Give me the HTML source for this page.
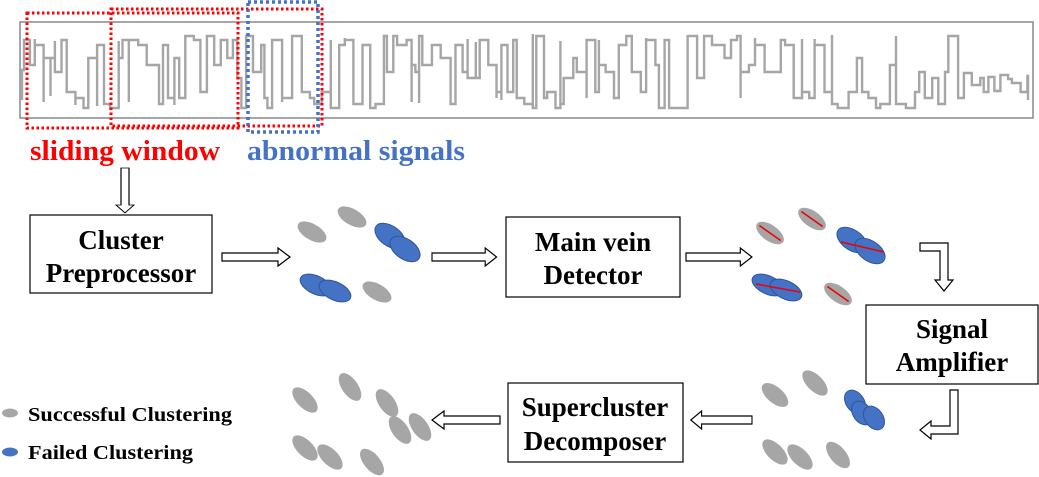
<!DOCTYPE html>
<html><head><meta charset="utf-8"><style>
body{margin:0;background:#fff}
svg{display:block}
.b{font-family:"Liberation Serif",serif;font-weight:bold;font-size:27px;fill:#000;text-anchor:middle}
.l{font-family:"Liberation Serif",serif;font-weight:bold;font-size:20px;fill:#000}
</style></head><body>
<svg width="1039" height="477" viewBox="0 0 1039 477" xmlns="http://www.w3.org/2000/svg">
<defs>
<g id="ar"><path d="M0,-4 H56 V-9 L68,0 L56,9 V4 H0 Z" fill="#fff" stroke="#000" stroke-width="1.2"/></g>
</defs>
<rect x="20" y="22" width="1013" height="96" fill="none" stroke="#888" stroke-width="1.5"/>
<path id="sig" fill="none" stroke="#a6a6a6" stroke-width="2.4"/>
<rect x="27" y="13" width="211" height="115" fill="none" stroke="#f00" stroke-width="3" stroke-dasharray="2.5 2.5"/>
<rect x="111" y="9" width="211" height="117" fill="none" stroke="#f00" stroke-width="3" stroke-dasharray="2.5 2.5"/>
<rect x="248" y="2" width="70" height="130" fill="none" stroke="#4472c4" stroke-width="3.5" stroke-dasharray="3 3"/>
<text x="30" y="160" font-family="Liberation Serif,serif" font-weight="bold" font-size="29" fill="#f00" textLength="190" lengthAdjust="spacingAndGlyphs">sliding window</text>
<text x="247" y="160" font-family="Liberation Serif,serif" font-weight="bold" font-size="29" fill="#4472c4" textLength="218" lengthAdjust="spacingAndGlyphs">abnormal signals</text>
<use href="#ar" transform="translate(125,168) rotate(90) scale(0.66,1)"/>
<rect x="30" y="215" width="182" height="78" fill="#fff" stroke="#000" stroke-width="1.2"/>
<text class="b" x="121" y="249">Cluster</text><text class="b" x="121" y="282">Preprocessor</text>
<rect x="506" y="217" width="174" height="80" fill="#fff" stroke="#000" stroke-width="1.2"/>
<text class="b" x="593" y="251">Main vein</text><text class="b" x="593" y="284">Detector</text>
<rect x="866" y="305" width="172" height="79" fill="#fff" stroke="#000" stroke-width="1.2"/>
<text class="b" x="952" y="338">Signal</text><text class="b" x="952" y="371">Amplifier</text>
<rect x="508" y="383" width="175" height="79" fill="#fff" stroke="#000" stroke-width="1.2"/>
<text class="b" x="595" y="416">Supercluster</text><text class="b" x="595" y="450">Decomposer</text>
<use href="#ar" transform="translate(222,257)"/>
<use href="#ar" transform="translate(432,257) scale(0.95,1)"/>
<use href="#ar" transform="translate(686,257) scale(0.97,1)"/>
<use href="#ar" transform="translate(752,420) scale(-0.9,1)"/>
<use href="#ar" transform="translate(500,420) scale(-1,1)"/>
<path d="M920,243 H948 V280 H953 L944,291 L935,280 H940 V251 H920 Z" fill="#fff" stroke="#000" stroke-width="1.2"/>
<path d="M958,390 V434 H931 V439 L920,430 L931,421 V426 H950 V390 Z" fill="#fff" stroke="#000" stroke-width="1.2"/>
<g id="ells"></g>
<ellipse cx="10" cy="413" rx="8" ry="4.5" fill="#a6a6a6"/>
<ellipse cx="10" cy="452" rx="8" ry="4.5" fill="#4472c4"/>
<text class="l" x="28" y="421" textLength="204" lengthAdjust="spacingAndGlyphs">Successful Clustering</text>
<text class="l" x="28" y="459" textLength="165" lengthAdjust="spacingAndGlyphs">Failed Clustering</text>
</svg>
<script>
(function(){
var s=11,r=function(){s=(s*16807)%2147483647;return s/2147483647;};
var d="M22,100 V70 H24",x=24;
var hiL=[36,40,45],midL=[58,65,72,78],loL=[92,98,104,108];
var pick=function(a){return a[Math.floor(r()*a.length)];};
while(x<1028){
  var ny;
  if(x>960){ny=Math.round(72+r()*28);}
  else{var p=r(); ny=p<0.38?pick(hiL):(p<0.62?pick(midL):pick(loL));}
  d+=" V"+ny;
  if(x<960&&r()<0.35){var sp=r()<0.5?34+Math.round(r()*8):96+Math.round(r()*10);d+=" V"+sp+" V"+ny;}
  x+=3+r()*7; if(x>1028)x=1028; d+=" H"+x.toFixed(1);
}
d+=" V100";
document.getElementById("sig").setAttribute("d",d);
var E=[
[312,232,16,8,30,"g"],[352,217,16,8,30,"g"],[390,236,17,10,35,"b"],[405,249,17,10,35,"b"],
[316,285,17,9,25,"b"],[335,291,17,9,25,"b"],[377,292,16,8,30,"g"],
[770,233,16,8,35,"g",1],[812,219,16,8,35,"g",1],[852,240,17,10,35,"b"],[870,251,17,10,35,"b"],
[768,285,17,9,25,"b"],[786,290,17,9,25,"b"],[838,294,16,8,35,"g",1],
[775,395,16,8,40,"g"],[815,383,16,8,45,"g"],[855,402,13,9,55,"b"],[862,413,13,9,55,"b"],[874,418,13,9,55,"b"],
[775,452,16,8,45,"g"],[800,457,16,8,45,"g"],[838,455,16,8,50,"g"],
[305,400,16,8,45,"g"],[350,387,16,8,55,"g"],[387,403,16,8,55,"g"],[400,430,16,8,55,"g"],[420,427,16,8,55,"g"],
[305,448,16,8,45,"g"],[330,457,16,8,45,"g"],[372,462,16,8,50,"g"]];
var h="";
E.forEach(function(e){h+='<ellipse cx="'+e[0]+'" cy="'+e[1]+'" rx="'+e[2]+'" ry="'+e[3]+'" transform="rotate('+e[4]+' '+e[0]+' '+e[1]+')" fill="'+(e[5]=="g"?"#a6a6a6":"#4472c4")+'" stroke="'+(e[5]=="g"?"none":"#2f5597")+'" stroke-width="1"/>';
 if(e[6])h+='<line x1="'+(e[0]-13)+'" y1="'+e[1]+'" x2="'+(e[0]+13)+'" y2="'+e[1]+'" transform="rotate('+e[4]+' '+e[0]+' '+e[1]+')" stroke="#e00" stroke-width="1.5"/>';});
h+='<line x1="841" y1="242" x2="884" y2="252" stroke="#e00" stroke-width="1.5"/>';
h+='<line x1="756" y1="284" x2="800" y2="292" stroke="#e00" stroke-width="1.5"/>';
document.getElementById("ells").innerHTML=h;
})();
</script>
</body></html>
